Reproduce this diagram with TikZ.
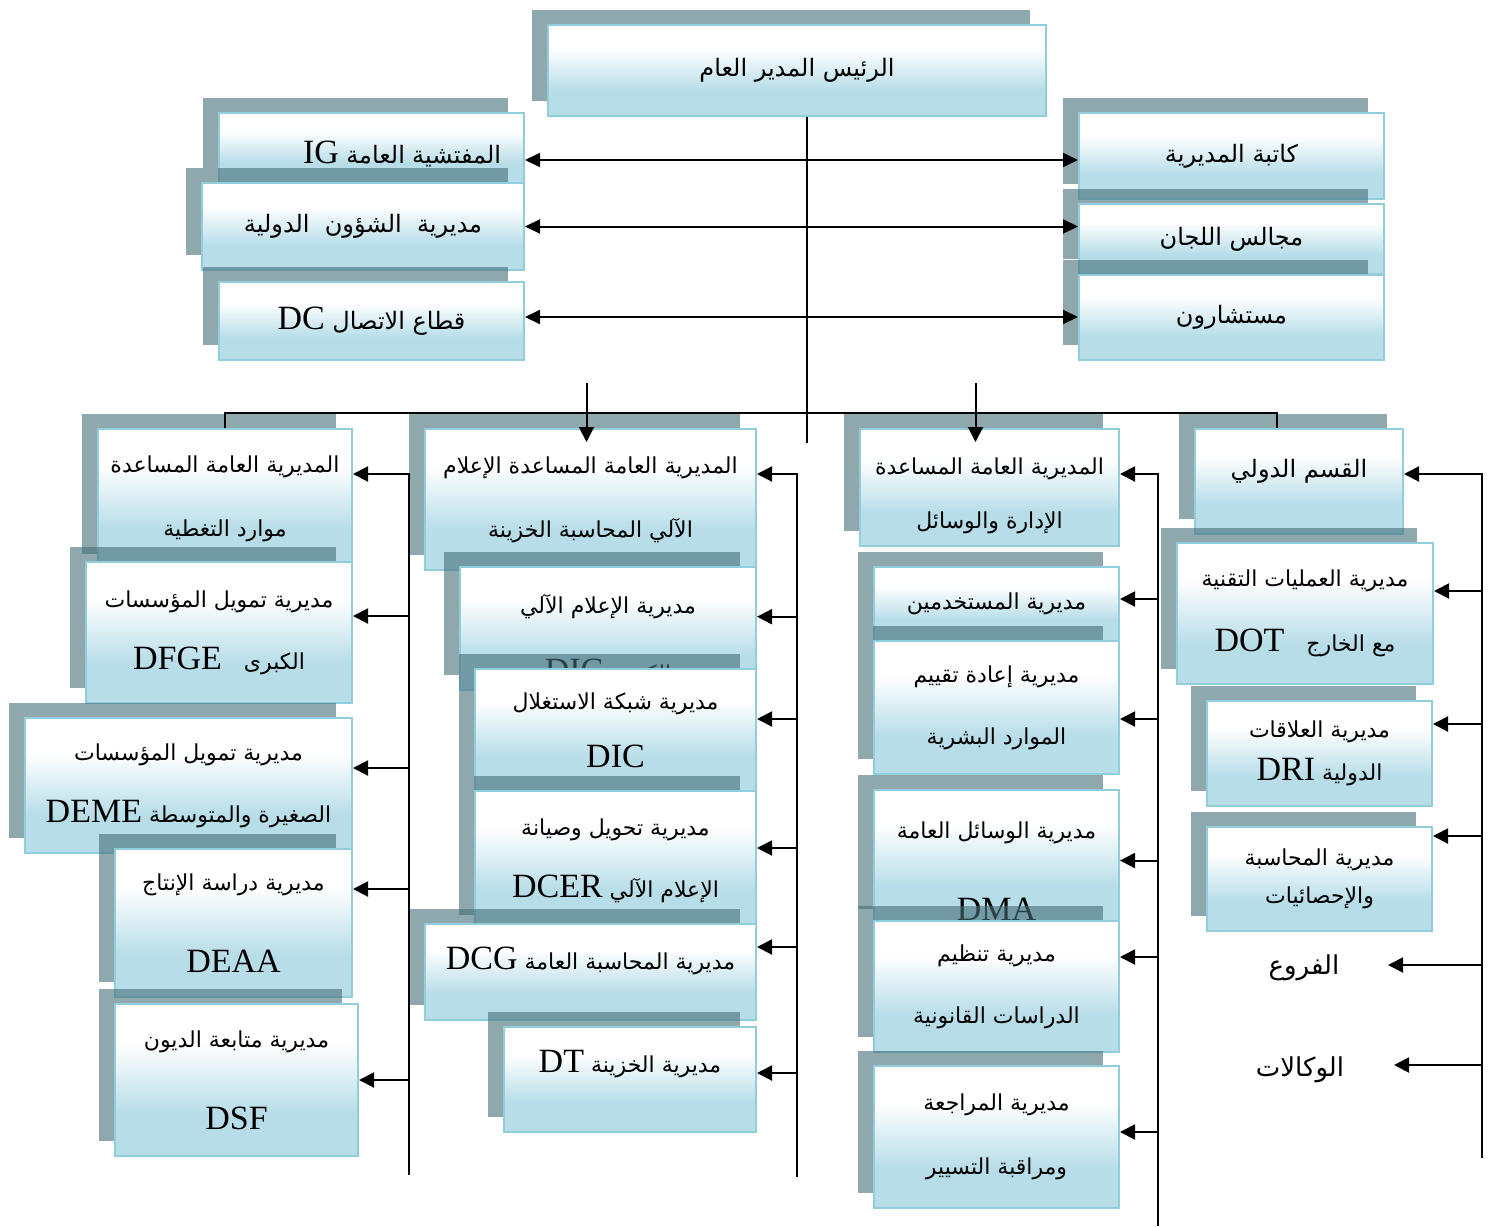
\documentclass[tikz,border=0pt]{standalone}
\usepackage{fontspec}
\setmainfont{Liberation Serif}
\newfontfamily\arabicfont[Script=Arabic]{DejaVu Sans}
\usepackage{tikz}
\usetikzlibrary{arrows.meta,shadows}
\TeXXeTstate=1
\definecolor{boxblue}{RGB}{183,221,232}
\definecolor{boxline}{RGB}{146,205,220}
\definecolor{shadowc}{RGB}{68,110,120}
\pgfdeclareverticalshading{boxshade}{100bp}{color(0bp)=(boxblue); color(39bp)=(boxblue); color(62bp)=(white); color(100bp)=(white)}
\newcommand{\ar}[1]{{\arabicfont\fontsize{11}{15}\selectfont\beginR #1\endR}}
\newcommand{\arbig}[1]{{\arabicfont\fontsize{12}{15}\selectfont\beginR #1\endR}}
\newcommand{\arlarge}[1]{{\arabicfont\fontsize{13}{15}\selectfont\beginR #1\endR}}
\newcommand{\lt}[1]{{\rmfamily\fontsize{17}{17}\selectfont #1}}
\newcommand{\lat}[1]{\beginL\lt{#1}\endL}
\tikzstyle{orgbox} = [rectangle, anchor=north west, inner sep=2pt, align=center, font=\fontsize{11}{15}\selectfont, draw=boxline, line width=1pt, shade, shading=boxshade, drop shadow={shadow xshift=-8pt, shadow yshift=7.5pt, fill=shadowc, opacity=.6}]
\tikzstyle{arrow} = [line width=1pt, ->, >={Triangle[length=7.5pt,width=7.5pt]}]
\tikzstyle{dblarrow} = [line width=1pt, <->, >={Triangle[length=7.5pt,width=7pt]}]
\tikzstyle{link} = [line width=1pt]

\begin{document}
\begin{tikzpicture}[x=0.5pt, y=-0.5pt]
\useasboundingbox (0,0) rectangle (1493,1226);
% top level
\node (rais) [orgbox, minimum width=249pt, minimum height=45.5pt] at (547,24) {\arbig{الرئيس المدير العام}};
\node (ig) [orgbox, minimum width=152.5pt, minimum height=35pt, text width=129.5pt, inner xsep=11.5pt, align=right] at (218,112) {\raisebox{-3pt}[\height][\depth]{\arbig{المفتشية العامة \lat{IG}}}};
\node (dai) [orgbox, minimum width=161pt, minimum height=43.5pt] at (201,182) {\arbig{مديرية\ \ الشؤون\ \ الدولية}};
\node (dc) [orgbox, minimum width=152.5pt, minimum height=39pt] at (218,281) {\arbig{قطاع الاتصال \lat{DC}}};
\node (kat) [orgbox, minimum width=152.5pt, minimum height=43pt] at (1078,112) {\arbig{كاتبة المديرية}};
\node (maj) [orgbox, minimum width=152.5pt, minimum height=35pt] at (1078,203) {\arbig{مجالس اللجان}};
\node (mus) [orgbox, minimum width=152.5pt, minimum height=42.5pt] at (1078,274) {\arbig{مستشارون}};

% first column
\node (a1) [orgbox, minimum width=127pt, minimum height=70pt] at (97,428) {\ar{المديرية العامة المساعدة}\\[17pt]\ar{موارد التغطية}};
\node (a2) [orgbox, minimum width=133pt, minimum height=70.5pt] at (85,561) {\ar{مديرية تمويل المؤسسات}\\[16pt]\ar{الكبرى\quad\lat{DFGE}}};
\node (a3) [orgbox, minimum width=163.5pt, minimum height=67.5pt] at (24,717) {\ar{مديرية تمويل المؤسسات}\\[16pt]\ar{الصغيرة والمتوسطة \lat{DEME}}};
\node (a4) [orgbox, minimum width=118.5pt, minimum height=74pt] at (114,848) {\ar{مديرية دراسة الإنتاج}\\[26pt]\lt{DEAA}};
\node (a5) [orgbox, minimum width=121.5pt, minimum height=76pt] at (114,1003) {\ar{مديرية متابعة الديون}\\[26pt]\lt{DSF}};

% second column
\node (b1) [orgbox, minimum width=165.5pt, minimum height=70.5pt] at (424,428) {\ar{المديرية العامة المساعدة الإعلام}\\[17pt]\ar{الآلي المحاسبة الخزينة}};
\node (b2) [orgbox, minimum width=148pt, minimum height=61pt] at (459,566) {\rule{0pt}{21pt}\ar{مديرية الإعلام الآلي}\\[19pt]\ar{الكبرى \lat{DIC}}};
\node (b3) [orgbox, minimum width=140.5pt, minimum height=61pt] at (474,668) {\ar{مديرية شبكة الاستغلال}\\[14pt]\lt{DIC}};
\node (b4) [orgbox, minimum width=140.5pt, minimum height=69.5pt] at (474,790) {\ar{مديرية تحويل وصيانة}\\[16pt]\ar{الإعلام الآلي \lat{DCER}}};
\node (b5) [orgbox, minimum width=165.5pt, minimum height=48pt] at (424,923) {\raisebox{5.5pt}[\height][\depth]{\ar{مديرية المحاسبة العامة \lat{DCG}}}};
\node (b6) [orgbox, minimum width=126pt, minimum height=52.5pt] at (503,1026) {\raisebox{7.5pt}[\height][\depth]{\ar{مديرية الخزينة \lat{DT}}}};

% third column
\node (c1) [orgbox, minimum width=129.5pt, minimum height=58.5pt] at (859,428) {\rule{0pt}{17pt}\ar{المديرية العامة المساعدة}\\[12pt]\ar{الإدارة والوسائل}};
\node (c2) [orgbox, minimum width=122.5pt, minimum height=37pt] at (873,566) {\ar{مديرية المستخدمين}};
\node (c3) [orgbox, minimum width=122.5pt, minimum height=66.5pt] at (873,640) {\ar{مديرية إعادة تقييم}\\[16pt]\ar{الموارد البشرية}};
\node (c4) [orgbox, minimum width=122.5pt, minimum height=65.5pt] at (873,789) {\rule{0pt}{22pt}\ar{مديرية الوسائل العامة}\\[26pt]\lt{DMA}};
\node (c5) [orgbox, minimum width=122.5pt, minimum height=65.5pt] at (873,920) {\ar{مديرية تنظيم}\\[16pt]\ar{الدراسات القانونية}};
\node (c6) [orgbox, minimum width=122.5pt, minimum height=71pt] at (873,1065) {\ar{مديرية المراجعة}\\[17pt]\ar{ومراقبة التسيير}};

% fourth column
\node (d1) [orgbox, minimum width=104pt, minimum height=52.5pt] at (1194,428) {\raisebox{5pt}[\height][\depth]{\arbig{القسم الدولي}}};
\node (d2) [orgbox, minimum width=128pt, minimum height=70.5pt] at (1176,542) {\ar{مديرية العمليات التقنية}\\[17.5pt]\ar{مع الخارج\quad\lat{DOT}}};
\node (d3) [orgbox, minimum width=112.5pt, minimum height=52.5pt] at (1206,700) {\ar{مديرية العلاقات}\\[6.5pt]\ar{الدولية \lat{DRI}}};
\node (d4) [orgbox, minimum width=112.5pt, minimum height=52pt] at (1206,826) {\ar{مديرية المحاسبة}\\[4pt]\ar{والإحصائيات}};
\node (furu) at (1304,968) {\arlarge{الفروع}};
\node (wak) at (1300,1070) {\arlarge{الوكالات}};

% connectors
\coordinate (trunk) at (807,443);
\coordinate (s1) at (409,473);
\coordinate (s1end) at (409,1175);
\coordinate (s2) at (797,473);
\coordinate (s2end) at (797,1177);
\coordinate (s3) at (1158,473);
\coordinate (s3end) at (1158,1226);
\coordinate (s4) at (1482,473);
\coordinate (s4end) at (1482,1158);

\draw [link] (rais.south -| trunk) -- (trunk);
\draw [dblarrow] ([yshift=-6pt]ig.east) -- ([yshift=-6pt]ig.east -| kat.west);
\draw [dblarrow] (dai.east) -- (dai.east -| maj.west);
\draw [dblarrow] ([yshift=2pt]dc.east) -- ([yshift=2pt]dc.east -| mus.west);
\draw [link] (a1.north) -- ++(0,7.5pt) -| ([xshift=-11pt]d1.north);
\draw [arrow] ([xshift=-2pt,yshift=22.5pt]b1.north) -- ([xshift=-2pt,yshift=-7pt]b1.north);
\draw [arrow] ([xshift=-7pt,yshift=22.5pt]c1.north) -- ([xshift=-7pt,yshift=-7pt]c1.north);

\draw [link] (s1) -- (s1end);
\draw [arrow] ([yshift=12.5pt]a1.east -| s1) -- ([yshift=12.5pt]a1.east);
\draw [arrow] ([yshift=8.25pt]a2.east -| s1) -- ([yshift=8.25pt]a2.east);
\draw [arrow] ([yshift=8.75pt]a3.east -| s1) -- ([yshift=8.75pt]a3.east);
\draw [arrow] ([yshift=17pt]a4.east -| s1) -- ([yshift=17pt]a4.east);
\draw [arrow] (a5.east -| s1) -- (a5.east);

\draw [link] (s2) -- (s2end);
\draw [arrow] ([yshift=12.75pt]b1.east -| s2) -- ([yshift=12.75pt]b1.east);
\draw [arrow] ([yshift=6pt]b2.east -| s2) -- ([yshift=6pt]b2.east);
\draw [arrow] ([yshift=5.5pt]b3.east -| s2) -- ([yshift=5.5pt]b3.east);
\draw [arrow] ([yshift=6.25pt]b4.east -| s2) -- ([yshift=6.25pt]b4.east);
\draw [arrow] ([yshift=12.5pt]b5.east -| s2) -- ([yshift=12.5pt]b5.east);
\draw [arrow] ([yshift=3.25pt]b6.east -| s2) -- ([yshift=3.25pt]b6.east);

\draw [link] (s3) -- (s3end);
\draw [arrow] ([yshift=6.75pt]c1.east -| s3) -- ([yshift=6.75pt]c1.east);
\draw [arrow] ([yshift=2.5pt]c2.east -| s3) -- ([yshift=2.5pt]c2.east);
\draw [arrow] ([yshift=-5.75pt]c3.east -| s3) -- ([yshift=-5.75pt]c3.east);
\draw [arrow] ([yshift=-1.75pt]c4.east -| s3) -- ([yshift=-1.75pt]c4.east);
\draw [arrow] ([yshift=14.75pt]c5.east -| s3) -- ([yshift=14.75pt]c5.east);
\draw [arrow] ([yshift=2.5pt]c6.east -| s3) -- ([yshift=2.5pt]c6.east);

\draw [link] (s4) -- (s4end);
\draw [arrow] ([yshift=3.75pt]d1.east -| s4) -- ([yshift=3.75pt]d1.east);
\draw [arrow] ([yshift=11.25pt]d2.east -| s4) -- ([yshift=11.25pt]d2.east);
\draw [arrow] ([yshift=14.75pt]d3.east -| s4) -- ([yshift=14.75pt]d3.east);
\draw [arrow] ([yshift=21.5pt]d4.east -| s4) -- ([yshift=21.5pt]d4.east);
\draw [arrow] ([yshift=1.5pt]furu.center -| s4) -- ([xshift=42pt,yshift=1.5pt]furu.center);
\draw [arrow] ([yshift=2.5pt]wak.center -| s4) -- ([xshift=47pt,yshift=2.5pt]wak.center);
\end{tikzpicture}
\end{document}
